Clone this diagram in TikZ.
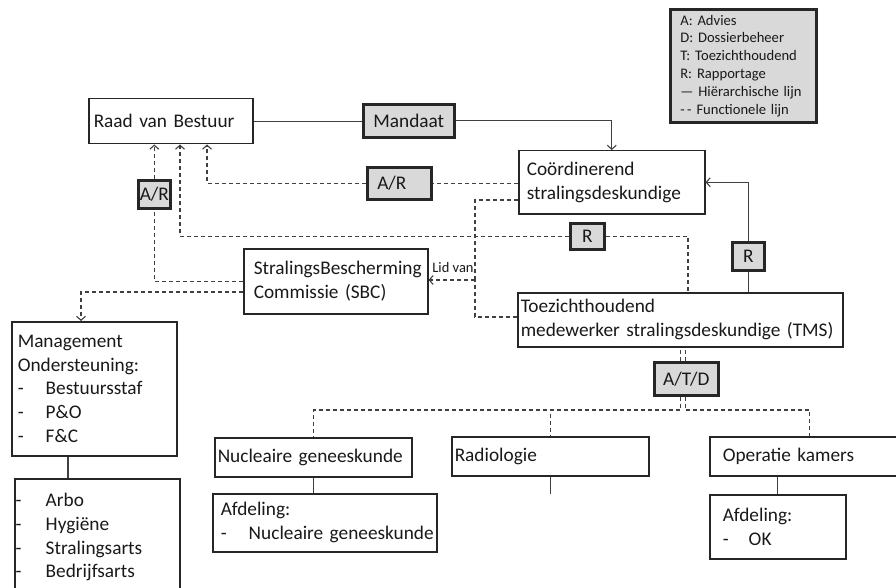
\documentclass[tikz,border=0pt]{standalone}
\usepackage{fontspec}
\setmainfont{Carlito}
\usepackage{tikz}
\usetikzlibrary{arrows.meta}
\definecolor{lijn}{HTML}{404040}
\definecolor{rand}{HTML}{262626}
\definecolor{vak}{HTML}{D9D9D9}
\hyphenpenalty=10000
\newcommand\dashitem[2][28pt]{\mbox{\makebox[#1][l]{-}#2}}

\begin{document}
\begin{tikzpicture}[x=1pt, y=-1pt,
	blok/.style={draw=rand, line width=1.5pt, anchor=north west, align=left, inner ysep=0pt, text=black!90,
		font=\fontsize{19.3}{23.6}\selectfont},
	grijs/.style={blok, fill=vak, line width=2.6pt, align=center, inner xsep=0pt},
	hlijn/.style={draw=lijn, line width=1.1pt},
	flijn/.style={hlijn, dash pattern=on 4pt off 3pt},
	>={Straight Barb[length=4pt,width=9pt]}]
	\useasboundingbox (0,0) rectangle (896,588);
	\clip (0,0) rectangle (896,588);

	% legenda
	\node[blok, fill=vak, line width=2.6pt, minimum width=146pt, minimum height=113pt, inner xsep=10pt, text width=126pt,
		font=\fontsize{14.6}{17.8}\selectfont] (leg) at (669,8)
		{A: Advies\\D: Dossierbeheer\\T: Toezichthoudend\\R: Rapportage\\— Hiërarchische lijn\\-\,- Functionele lijn};

	\node[blok, minimum width=164pt, minimum height=45pt, inner xsep=5pt, text width=154pt] (rvb) at (88,98) {Raad van Bestuur};
	\node[grijs, minimum width=91pt, minimum height=33pt] (mandaat) at (362,103) {Mandaat};
	\node[blok, minimum width=186pt, minimum height=63pt, inner xsep=8pt, text width=170pt] (cs) at (518,150) {Coördinerend\\stralingsdeskundige};
	\node[grijs, minimum width=32pt, minimum height=28pt] (arL) at (137,179) {A/R};
	\node[grijs, minimum width=64pt, minimum height=32pt, align=left, inner xsep=10pt, text width=44pt] (arM) at (366,166) {A/R};
	\node[grijs, minimum width=34pt, minimum height=26pt] (rM) at (569,222) {R};
	\node[grijs, minimum width=32pt, minimum height=28pt] (rR) at (731,241) {R};
	\node[blok, minimum width=184pt, minimum height=65pt, inner xsep=10pt, text width=164pt] (sbc) at (243,248) {StralingsBescherming\\Commissie (SBC)};
	\node[blok, minimum width=325pt, minimum height=54pt, inner xsep=3pt, text width=319pt] (tms) at (517,292) {Toezichthoudend\\medewerker stralingsdeskundige (TMS)};
	\node[grijs, minimum width=64pt, minimum height=33pt] (atd) at (653,361) {A/T/D};
	\node[inner sep=0pt, text=black!90, font=\fontsize{14.5}{14.5}\selectfont] (lid) at (453,268) {Lid van};
	\coordinate (lidk) at (475,280);

	\node[blok, minimum width=165pt, minimum height=134pt, inner xsep=6pt, text width=153pt] (mo) at (11,321)
		{Management\\Ondersteuning:\\\dashitem{Bestuursstaf}\\\dashitem{P\&O}\\\dashitem{F\&C}};
	\node[blok, minimum width=165pt, minimum height=117pt, inner xsep=1pt, text width=163pt] (arbo) at (14,478)
		{\dashitem[30pt]{Arbo}\\\dashitem[30pt]{Hygiëne}\\\dashitem[30pt]{Stralingsarts}\\\dashitem[30pt]{Bedrijfsarts}};

	\node[blok, minimum width=197pt, minimum height=39pt, inner xsep=3pt, text width=191pt] (ng) at (214,437) {Nucleaire geneeskunde};
	\node[blok, minimum width=224pt, minimum height=58pt, inner xsep=8pt, text width=208pt] (ngafd) at (212,493) {Afdeling:\\\dashitem{Nucleaire geneeskunde}};
	\node[blok, minimum width=197pt, minimum height=39pt, inner xsep=3pt, text width=191pt] (rad) at (451,436) {Radiologie};
	\node[blok, minimum width=200pt, minimum height=39pt, inner xsep=13pt, text width=174pt] (ok) at (709,436) {Operatie kamers};
	\node[blok, minimum width=136pt, minimum height=64pt, inner xsep=13pt, text width=110pt] (okafd) at (709,494) {Afdeling:\\\dashitem[26pt]{OK}};

	% hierarchische lijnen
	\draw[hlijn] (rvb.east) -- (rvb.east -| mandaat.west);
	\draw[hlijn,->] (mandaat.east) -| (cs.north);
	\draw[hlijn] (tms.north -| rR.south) -- (rR.south);
	\draw[hlijn,->] (rR.north) |- (cs.east);
	\draw[hlijn] ([xshift=57pt]mo.south west) -- ([xshift=57pt]mo.south west |- arbo.north);
	\draw[hlijn] (ng.south) -- (ng.south |- ngafd.north);
	\draw[hlijn] (rad.south) -- ++(0,17);
	\draw[hlijn] (okafd.north |- ok.south) -- (okafd.north);

	% functionele lijnen
	\draw[flijn] (cs.west |- arM.east) -- (arM.east);
	\draw[flijn,->] (arM.west) -| ([xshift=119pt]rvb.south west);
	\draw[flijn] (sbc.west) -| (arL.south);
	\draw[flijn,->] (arL.north) -- (arL.north |- rvb.south);
	\draw[flijn,->] (rM.west) -| ([xshift=92pt]rvb.south west);
	\draw[flijn] (rM.east) -| ([xshift=171pt]tms.north west);
	\draw[flijn,->] ([yshift=-44pt]sbc.north west) -| ([xshift=70pt]mo.north west);
	\draw[flijn] ([yshift=-50pt]cs.north west) -| (lidk);
	\draw[flijn] ([yshift=-25pt]tms.north west) -| (lidk);
	\draw[flijn,->] (lidk) -- (lidk -| sbc.east);
	\draw[flijn] ([xshift=-6pt]atd.north) -- ([xshift=-6pt]atd.north |- tms.south);
	\draw[flijn] ([xshift=-1pt]atd.north) -- ([xshift=-1pt]atd.north |- tms.south);
	\coordinate (bus) at (0,410);
	\draw[flijn] ([xshift=-6pt]atd.south) |- (bus -| ng.north) -- (ng.north);
	\draw[flijn] ([xshift=-6pt]atd.south) |- (bus -| rad.north) -- (rad.north);
	\draw[flijn] ([xshift=-1pt]atd.south) |- (bus -| ok.north) -- (ok.north);
\end{tikzpicture}
\end{document}
